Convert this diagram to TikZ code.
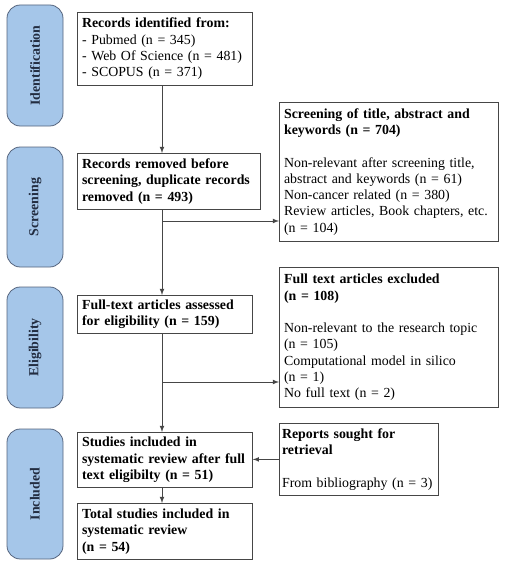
\documentclass[tikz,border=0pt]{standalone}
\usepackage{fontspec}
\setmainfont{Liberation Serif}
\definecolor{stagefill}{RGB}{165,198,233}
\definecolor{stageline}{RGB}{85,100,125}
\definecolor{stagetext}{RGB}{35,45,65}
\definecolor{boxline}{RGB}{70,70,70}
\tikzset{
	stage/.style={draw=stageline,fill=stagefill,line width=0.6pt,rounded corners=10pt,rotate=90,minimum height=42pt,font=\fontsize{10.4}{12.2}\selectfont\bfseries,text=stagetext},
	box/.style={draw=boxline,line width=0.6pt,anchor=north west,align=left,inner xsep=3.5pt,inner ysep=2pt,text width=#1,font=\fontsize{10.4}{12.2}\selectfont},
	link/.style={draw=boxline,line width=0.6pt,->,>=latex}
}
\begin{document}
\begin{tikzpicture}[x=0.75pt,y=-0.75pt]
	\useasboundingbox[fill=white] (0,0) rectangle (504,567);

	% stages on the left
	\node[stage,minimum width=90.75pt] (ident) at (35,65.5) {Identification};
	\node[stage,minimum width=90pt] (screen) at (35,207) {Screening};
	\node[stage,minimum width=90.75pt] (elig) at (35,347.5) {Eligibility};
	\node[stage,minimum width=97.5pt] (incl) at (35,494) {Included};

	% main column
	\node[box=124.25pt,minimum height=54.75pt] (ident box) at (77,12) {\textbf{Records identified from:}\\- Pubmed (n = 345)\\- Web Of Science (n = 481)\\- SCOPUS (n = 371)};
	\node[box=130.25pt,minimum height=42pt] (dupl box) at (77,153) {\textbf{Records removed before}\\\textbf{screening, duplicate records}\\\textbf{removed (n = 493)}};
	\node[box=124.25pt,minimum height=28.5pt] (full box) at (77,295) {\textbf{Full-text articles assessed}\\\textbf{for eligibility (n = 159)}};
	\node[box=124.25pt,minimum height=41.25pt] (stud box) at (77,432) {\textbf{Studies included in}\\\textbf{systematic review after full}\\\textbf{text eligibilty (n = 51)}};
	\node[box=124.25pt,minimum height=42pt] (total box) at (77,503) {\textbf{Total studies included in}\\\textbf{systematic review}\\\textbf{(n = 54)}};

	% side column
	\node[box=157.25pt,minimum height=104.25pt] (title box) at (279,102) {\textbf{Screening of title, abstract and}\\\textbf{keywords (n = 704)}\\[12.2pt]Non-relevant after screening title,\\abstract and keywords (n = 61)\\Non-cancer related (n = 380)\\Review articles, Book chapters, etc.\\(n = 104)};
	\node[box=157.25pt,minimum height=105pt] (excl box) at (279,267) {\textbf{Full text articles excluded}\\\textbf{(n = 108)}\\[12.2pt]Non-relevant to the research topic\\(n = 105)\\Computational model in silico\\(n = 1)\\No full text (n = 2)};
	\node[box=115pt,inner xsep=2pt,minimum height=54pt] (sought box) at (279,423) {\textbf{Reports sought for}\\\textbf{retrieval}\\[12.2pt]From bibliography (n~=~3)};

	\coordinate (spine) at (162,0);
	\coordinate (fork1) at (162,221);
	\coordinate (fork2) at (162,382);

	\draw[link] (ident box.south -| spine) -- (dupl box.north -| spine);
	\draw[link] (dupl box.south -| spine) -- (full box.north -| spine);
	\draw[link] (fork1) -- (title box.west |- fork1);
	\draw[link] (full box.south -| spine) -- (stud box.north -| spine);
	\draw[link] (fork2) -- (excl box.west |- fork2);
	\draw[link] (sought box.west) -- (stud box.east |- sought box.west);
	\draw[link] (stud box.south -| spine) -- (total box.north -| spine);
\end{tikzpicture}
\end{document}
